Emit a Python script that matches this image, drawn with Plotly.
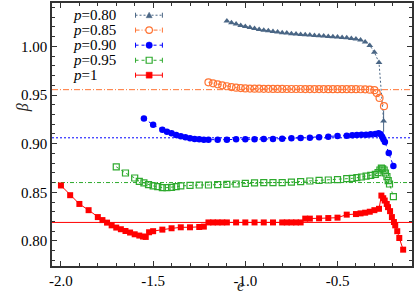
import plotly.graph_objects as go

# ---------------- data ----------------
x_p080 = [-1.100, -1.075, -1.050, -1.025, -1.000, -0.975, -0.950, -0.925, -0.900, -0.875,
          -0.850, -0.825, -0.800, -0.775, -0.750, -0.725, -0.700, -0.675, -0.650, -0.625,
          -0.600, -0.575, -0.550, -0.525, -0.500, -0.475, -0.450, -0.425, -0.400, -0.375,
          -0.350, -0.325, -0.300, -0.275, -0.250]
y_p080 = [1.0262, 1.0242, 1.0229, 1.0214, 1.0204, 1.0194, 1.0184, 1.0173, 1.0167, 1.0160,
          1.0153, 1.0147, 1.0140, 1.0137, 1.0130, 1.0127, 1.0122, 1.0119, 1.0116, 1.0112,
          1.0109, 1.0106, 1.0102, 1.0099, 1.0096, 1.0092, 1.0089, 1.0082, 1.0076, 1.0065,
          1.0045, 1.0010, 0.9939, 0.9834, 0.9232]
err_p080 = [0] * 34 + [0.011]

x_p085 = [-1.200, -1.175, -1.150, -1.125, -1.100, -1.075, -1.050, -1.025, -1.000, -0.975,
          -0.950, -0.925, -0.900, -0.875, -0.850, -0.825, -0.800, -0.775, -0.750, -0.725,
          -0.700, -0.675, -0.650, -0.625, -0.600, -0.575, -0.550, -0.525, -0.500, -0.475,
          -0.450, -0.425, -0.400, -0.375, -0.350, -0.325, -0.300, -0.287, -0.272, -0.248]
y_p085 = [0.9630, 0.9620, 0.9610, 0.9600, 0.9590, 0.9582, 0.9575, 0.9571, 0.9568, 0.9566,
          0.9565, 0.9565, 0.9564, 0.9564, 0.9563, 0.9563, 0.9563, 0.9562, 0.9562, 0.9562,
          0.9562, 0.9561, 0.9561, 0.9561, 0.9561, 0.9561, 0.9560, 0.9560, 0.9560, 0.9560,
          0.9560, 0.9560, 0.9560, 0.9559, 0.9558, 0.9555, 0.9550, 0.9520, 0.9470, 0.9385]

x_p090 = [-1.550, -1.500, -1.450, -1.425, -1.400, -1.375, -1.350, -1.325, -1.300, -1.275,
          -1.250, -1.225, -1.200, -1.150, -1.100, -1.050, -1.000, -0.950, -0.900, -0.850,
          -0.800, -0.750, -0.700, -0.650, -0.600, -0.550, -0.500, -0.450, -0.420, -0.395,
          -0.370, -0.345, -0.320, -0.295, -0.277, -0.266, -0.258, -0.251, -0.243, -0.222,
          -0.197]
y_p090 = [0.9259, 0.9194, 0.9143, 0.9122, 0.9106, 0.9089, 0.9076, 0.9065, 0.9055, 0.9048,
          0.9045, 0.9041, 0.9041, 0.9041, 0.9041, 0.9045, 0.9045, 0.9045, 0.9048, 0.9048,
          0.9051, 0.9055, 0.9058, 0.9061, 0.9065, 0.9071, 0.9079, 0.9082, 0.9086, 0.9089,
          0.9092, 0.9092, 0.9096, 0.9099, 0.9106, 0.9096, 0.9071, 0.9045, 0.9017, 0.8905,
          0.8770]

x_p095 = [-1.700, -1.650, -1.600, -1.575, -1.550, -1.525, -1.500, -1.475, -1.450, -1.425,
          -1.400, -1.375, -1.350, -1.300, -1.250, -1.200, -1.150, -1.100, -1.050, -1.000,
          -0.950, -0.900, -0.850, -0.800, -0.750, -0.700, -0.650, -0.600, -0.550, -0.500,
          -0.450, -0.420, -0.395, -0.370, -0.345, -0.320, -0.295, -0.280, -0.270, -0.262,
          -0.255, -0.247, -0.240, -0.232, -0.225, -0.218, -0.197]
y_p095 = [0.8762, 0.8698, 0.8647, 0.8612, 0.8596, 0.8579, 0.8565, 0.8558, 0.8548, 0.8548,
          0.8551, 0.8558, 0.8565, 0.8571, 0.8575, 0.8575, 0.8579, 0.8582, 0.8585, 0.8592,
          0.8596, 0.8600, 0.8600, 0.8600, 0.8605, 0.8609, 0.8616, 0.8622, 0.8626, 0.8630,
          0.8640, 0.8643, 0.8650, 0.8657, 0.8667, 0.8673, 0.8684, 0.8701, 0.8729, 0.8749,
          0.8742, 0.8729, 0.8698, 0.8660, 0.8620, 0.8585, 0.8456]

x_p100 = [-2.000, -1.950, -1.900, -1.850, -1.800, -1.775, -1.750, -1.725, -1.700, -1.675,
          -1.650, -1.625, -1.600, -1.575, -1.555, -1.540, -1.522, -1.500, -1.450, -1.400,
          -1.350, -1.300, -1.250, -1.225, -1.200, -1.175, -1.150, -1.125, -1.100, -1.050,
          -1.000, -0.950, -0.900, -0.850, -0.800, -0.775, -0.750, -0.725, -0.700, -0.675,
          -0.650, -0.600, -0.550, -0.500, -0.450, -0.400, -0.375, -0.350, -0.325, -0.300,
          -0.275, -0.262, -0.252, -0.244, -0.233, -0.226, -0.215, -0.205, -0.194, -0.187,
          -0.176, -0.165, -0.144]
y_p100 = [0.8570, 0.8470, 0.8380, 0.8316, 0.8245, 0.8214, 0.8188, 0.8160, 0.8137, 0.8120,
          0.8102, 0.8086, 0.8068, 0.8055, 0.8045, 0.8041, 0.8089, 0.8100, 0.8116, 0.8130,
          0.8140, 0.8140, 0.8143, 0.8147, 0.8190, 0.8190, 0.8190, 0.8190, 0.8190, 0.8190,
          0.8190, 0.8190, 0.8190, 0.8190, 0.8190, 0.8190, 0.8190, 0.8190, 0.8190, 0.8229,
          0.8229, 0.8232, 0.8235, 0.8239, 0.8270, 0.8276, 0.8283, 0.8290, 0.8300, 0.8316,
          0.8330, 0.8466, 0.8439, 0.8415, 0.8380, 0.8347, 0.8306, 0.8245, 0.8194, 0.8160,
          0.8100, 0.8030, 0.7910]

series_names = ["<i>p</i>=0.80", "<i>p</i>=0.85", "<i>p</i>=0.90", "<i>p</i>=0.95", "<i>p</i>=1"]
ref_levels = [0.9555, 0.906, 0.860, 0.819]  # p=0.85, 0.90, 0.95, 1

x_tickvals = [-2.0, -1.5, -1.0, -0.5]
x_ticktext = ["-2.0", "-1.5", "-1.0", "-0.5"]
y_tickvals = [0.80, 0.85, 0.90, 0.95, 1.00]
y_ticktext = ["0.80", "0.85", "0.90", "0.95", "1.00"]

# ---------------- styles ----------------
C_GRAY = "#4a6685"
C_ORANGE = "#ff7434"
C_BLUE = "#0000ff"
C_GREEN = "#2eaa2e"
C_RED = "#ff0000"
FONT = "Liberation Serif"

fig = go.Figure()

fig.add_trace(go.Scatter(x=x_p080, y=y_p080, mode="lines+markers", name="p=0.80",
                         line=dict(color=C_GRAY, width=1, dash="2px,2px"),
                         marker=dict(symbol="triangle-up", size=6, color=C_GRAY),
                         error_y=dict(type="data", array=err_p080, color=C_GRAY,
                                      thickness=1, width=0)))
fig.add_trace(go.Scatter(x=x_p085, y=y_p085, mode="lines+markers", name="p=0.85",
                         line=dict(color=C_ORANGE, width=1, dash="4px,2px,1px,2px"),
                         marker=dict(symbol="circle-open", size=7, color=C_ORANGE,
                                     line=dict(width=1.2, color=C_ORANGE))))
fig.add_trace(go.Scatter(x=x_p090, y=y_p090, mode="lines+markers", name="p=0.90",
                         line=dict(color=C_BLUE, width=1, dash="dot"),
                         marker=dict(symbol="circle", size=6.5, color=C_BLUE)))
fig.add_trace(go.Scatter(x=x_p095, y=y_p095, mode="lines+markers", name="p=0.95",
                         line=dict(color=C_GREEN, width=1, dash="dot"),
                         marker=dict(symbol="square-open", size=6, color=C_GREEN,
                                     line=dict(width=1.2, color=C_GREEN))))
fig.add_trace(go.Scatter(x=x_p100, y=y_p100, mode="lines+markers", name="p=1",
                         line=dict(color=C_RED, width=1),
                         marker=dict(symbol="square", size=6, color=C_RED)))

# horizontal reference lines
ref_styles = [(C_ORANGE, "6px,2px,1px,2px", 1), (C_BLUE, "2px,2px", 1),
              (C_GREEN, "4px,2px,1px,2px", 1), (C_RED, "solid", 1)]
shapes = []
for lvl, (col, dash, w) in zip(ref_levels, ref_styles):
    shapes.append(dict(type="line", xref="paper", yref="y", x0=0, x1=1, y0=lvl, y1=lvl,
                       line=dict(color=col, width=w, dash=dash), layer="below"))

# ---------------- manual legend (text left, key right) ----------------
L, R, T, B = 52, 1, 1, 29
W, H = 415, 295
pw, ph = W - L - R, H - T - B


def px2paper_x(px):
    return (px - L) / pw


def py2paper_y(py):
    return 1 - (py - T) / ph


leg_rows = [13.3, 28.3, 43.5, 58.7, 73.7]
leg_cols = [C_GRAY, C_ORANGE, C_BLUE, C_GREEN, C_RED]
leg_dash = ["2px,2px", "4px,2px,1px,2px", "dot", "dot", "solid"]
leg_x0, leg_x1, leg_xm = 136, 163, 149.7
annotations = []
for i, (row, col) in enumerate(zip(leg_rows, leg_cols)):
    yy = py2paper_y(row)
    shapes.append(dict(type="line", xref="paper", yref="paper",
                       x0=px2paper_x(leg_x0), x1=px2paper_x(leg_x1), y0=yy, y1=yy,
                       line=dict(color=col, width=1, dash=leg_dash[i])))
    for ex in (leg_x0, leg_x1):
        shapes.append(dict(type="line", xref="paper", yref="paper",
                           xsizemode="pixel", ysizemode="pixel",
                           xanchor=px2paper_x(ex), yanchor=yy,
                           x0=0, x1=0, y0=-2.5, y1=2.5,
                           line=dict(color=col, width=1)))
    xa = px2paper_x(leg_xm)
    base = dict(xref="paper", yref="paper", xsizemode="pixel", ysizemode="pixel",
                xanchor=xa, yanchor=yy)
    if i == 0:
        shapes.append(dict(type="path", path="M-3,-2.5 L3,-2.5 L0,3 Z",
                           fillcolor=col, line=dict(color=col, width=0.5), **base))
    elif i == 1:
        shapes.append(dict(type="circle", x0=-3.3, x1=3.3, y0=-3.3, y1=3.3,
                           fillcolor="white", line=dict(color=col, width=1.2), **base))
    elif i == 2:
        shapes.append(dict(type="circle", x0=-3.2, x1=3.2, y0=-3.2, y1=3.2,
                           fillcolor=col, line=dict(color=col, width=0.5), **base))
    elif i == 3:
        shapes.append(dict(type="rect", x0=-3, x1=3, y0=-3, y1=3,
                           fillcolor="white", line=dict(color=col, width=1.2), **base))
    else:
        shapes.append(dict(type="rect", x0=-3, x1=3, y0=-3, y1=3,
                           fillcolor=col, line=dict(color=col, width=0.5), **base))
    annotations.append(dict(text=series_names[i], xref="paper", yref="paper",
                            x=px2paper_x(71), y=yy, xanchor="left", yanchor="middle",
                            showarrow=False, font=dict(family=FONT, size=15, color="black")))

# axis titles
annotations.append(dict(text="<i>e</i>", xref="paper", yref="paper",
                        x=px2paper_x(242), y=py2paper_y(295), xanchor="center",
                        yanchor="bottom", showarrow=False, borderpad=0,
                        font=dict(family=FONT, size=16, color="#222")))
annotations.append(dict(text="<i>β</i>", xref="paper", yref="paper",
                        x=px2paper_x(23), y=py2paper_y(107), xanchor="center",
                        yanchor="middle", showarrow=False, textangle=-90,
                        font=dict(family=FONT, size=16, color="#222")))

axis_common = dict(showline=True, linecolor="#333", linewidth=1.5, mirror="allticks",
                   ticks="inside", ticklen=5, tickwidth=1, tickcolor="#333",
                   showgrid=False, zeroline=False,
                   tickfont=dict(family=FONT, size=15, color="black"))

fig.update_layout(
    width=W, height=H,
    margin=dict(l=L, r=R, t=T, b=B),
    paper_bgcolor="white", plot_bgcolor="white",
    showlegend=False,
    shapes=shapes, annotations=annotations,
    xaxis=dict(range=[-2.0485, -0.096], tickmode="array", tickvals=x_tickvals,
               ticktext=x_ticktext,
               minor=dict(tick0=-2.0, dtick=0.1, ticks="inside", ticklen=3,
                          tickcolor="#333", tickwidth=1),
               **axis_common),
    yaxis=dict(range=[0.7742, 1.0446], tickmode="array", tickvals=y_tickvals,
               ticktext=y_ticktext,
               minor=dict(tick0=0.80, dtick=0.01, ticks="inside", ticklen=3,
                          tickcolor="#333", tickwidth=1),
               **axis_common),
)

fig.write_html("out.html", config={"displayModeBar": False},
               post_script="document.body.style.margin='0';document.body.style.overflow='hidden';")
